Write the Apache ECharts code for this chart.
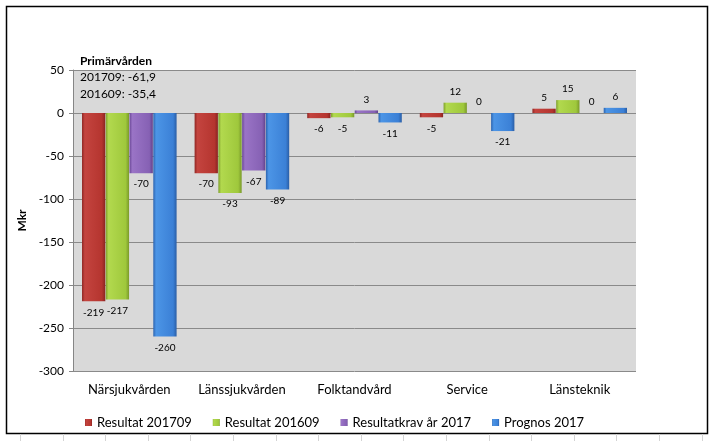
<!DOCTYPE html>
<html><head><meta charset="utf-8">
<script src="https://cdn.jsdelivr.net/npm/echarts@6/dist/echarts.min.js"></script>
<style>html,body{margin:0;padding:0;background:#fff}#c{width:712px;height:441px}</style>
</head><body><div id="c"></div>
<script>
const categories = ['Närsjukvården','Länssjukvården','Folktandvård','Service','Länsteknik'];
const seriesNames = ['Resultat 201709','Resultat 201609','Resultatkrav år 2017','Prognos 2017'];
const resultat201709 = [-219,-70,-6,-5,5];
const resultat201609 = [-217,-93,-5,12,15];
const resultatkrav2017 = [-70,-67,3,0,0];
const prognos2017 = [-260,-89,-11,-21,6];
const yTicks = [50,0,-50,-100,-150,-200,-250,-300];
const noteTitle = 'Primärvården';
const noteLines = ['201709: -61,9','201609: -35,4'];

const FONT = 'Lato, "Open Sans", sans-serif';
const colorSets = [
  ['#8f2724','#c4443f','#b5352f','#8a2421'],
  ['#7fa02c','#b2d94e','#9fc83c','#7a9a2a'],
  ['#6a4796','#9a74c6','#8661b4','#62428c'],
  ['#2c64b0','#4c95e6','#3b80d6','#2a5ea6']
];
function grad(c){
  return new echarts.graphic.LinearGradient(0,0,1,0,[
    {offset:0,color:c[0]},{offset:0.12,color:c[1]},{offset:0.85,color:c[2]},{offset:1,color:c[3]}
  ]);
}
const datasets = [resultat201709,resultat201609,resultatkrav2017,prognos2017];
const series = datasets.map((arr,i)=>({
  name: seriesNames[i],
  type: 'bar',
  barGap: '2%',
  barCategoryGap: '16%',
  itemStyle: {color: grad(colorSets[i])},
  data: arr.map(v=>({value:v, label:{position: v<0?'bottom':'top'}})),
  label: {show:true, color:'#000', fontSize:10, fontFamily:FONT, distance:6}
}));

const chart = echarts.init(document.getElementById('c'), null, {renderer:'canvas'});
const faint = [];
for (let x = 20; x < 712; x += 42.6) {
  faint.push({type:'line', shape:{x1:Math.round(x)+0.5,y1:434,x2:Math.round(x)+0.5,y2:441}, style:{stroke:'#d4d4d4',lineWidth:1}});
}
chart.setOption({
  animation:false,
  backgroundColor:'#fff',
  color: colorSets.map(c=>c[2]),
  grid:{left:73, top:70, right:76, bottom:70, show:true, backgroundColor:'#d9d9d9', borderWidth:0},
  legend:{
    data: seriesNames, left:80, top:411, itemWidth:7, itemHeight:7, itemGap:21,
    icon:'rect',
    textStyle:{fontFamily:FONT, fontSize:13, color:'#000'}
  },
  xAxis:{
    type:'category', data:categories,
    axisLine:{show:false}, axisTick:{show:false},
    axisLabel:{fontFamily:FONT, fontSize:13, color:'#000', margin:12, interval:0},
    splitLine:{show:false}
  },
  yAxis:{
    type:'value', min:-300, max:50, interval:50,
    name:'Mkr', nameLocation:'middle', nameRotate:90, nameGap:36,
    nameTextStyle:{fontFamily:FONT, fontSize:12, fontWeight:'bold', color:'#000'},
    axisLine:{show:true, lineStyle:{color:'#868686'}},
    axisTick:{show:true, length:4, lineStyle:{color:'#868686'}},
    axisLabel:{fontFamily:FONT, fontSize:12, color:'#000', margin:9,
      formatter:v=> yTicks.includes(v) ? String(v) : ''},
    splitLine:{show:true, lineStyle:{color:'#8a8a8a', width:1}}
  },
  series: series,
  graphic:[
    {type:'rect', shape:{x:6.5,y:6.5,width:701,height:427}, style:{fill:'none', stroke:'#000', lineWidth:1.5}, z:-1},
    {type:'text', left:80, top:55, style:{text:noteTitle, font:'bold 12px '+FONT, fill:'#000'}, z:10},
    {type:'text', left:80, top:71, style:{text:noteLines[0], font:'12px '+FONT, fill:'#000'}, z:10},
    {type:'text', left:80, top:88, style:{text:noteLines[1], font:'12px '+FONT, fill:'#000'}, z:10}
  ].concat(faint)
});
</script></body></html>
